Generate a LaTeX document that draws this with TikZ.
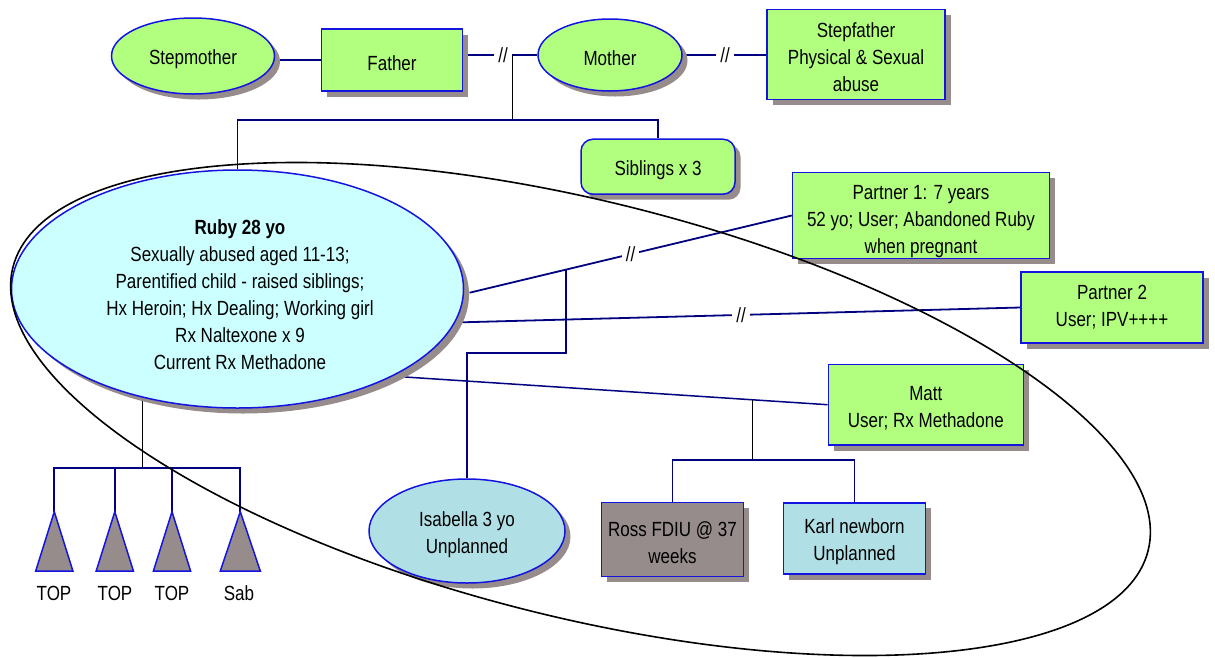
\documentclass[tikz,border=0pt]{standalone}
\usepackage{fontspec}
\setmainfont{Liberation Sans}[FakeStretch=0.83]
\usetikzlibrary{shapes.geometric,shadows,backgrounds,calc}
\definecolor{gfill}{RGB}{178,255,128}
\definecolor{rubyfill}{RGB}{204,255,255}
\definecolor{kidfill}{RGB}{176,224,230}
\definecolor{shgrey}{RGB}{150,140,140}
\definecolor{bord}{RGB}{20,20,225}
\definecolor{navyc}{RGB}{0,0,128}
\newcommand{\topstrut}[1]{\rule{0pt}{#1pt}}
\begin{document}
\begin{tikzpicture}[x=1pt,y=1pt,
  font=\fontsize{20.5}{27}\selectfont,
  base/.style={draw=bord, line width=1.5pt, inner sep=0pt, align=center,
    drop shadow={shadow xshift=5.5pt, shadow yshift=-5.5pt, fill=shgrey, opacity=1}},
  gbox/.style={base, rectangle, fill=gfill},
  gell/.style={base, ellipse, fill=gfill},
  conn/.style={draw=navyc, line width=1.8pt},
  thinline/.style={draw=black, line width=1.2pt},
  brk/.style={fill=white, inner xsep=4pt, inner ysep=1pt},
  tri/.style={draw=bord, fill=shgrey, line width=1.5pt, line join=miter},
  ring/.style={draw=black, line width=1.6pt}
]
\useasboundingbox (0,0) rectangle (1215,-657);

% nodes
\node[gell, minimum width=163, minimum height=76] (stepmother) at (193,-56) {\topstrut{22}Stepmother};
\node[gbox, minimum width=141, minimum height=62] (father) at (392,-60) {\topstrut{22}Father};
\node[gell, minimum width=144, minimum height=72] (mother) at (610,-55) {\topstrut{22}Mother};
\node[gbox, minimum width=178, minimum height=90] (stepfather) at (856,-54.3) {\topstrut{20}Stepfather\\Physical \& Sexual\\abuse};
\node[gbox, rounded corners=12pt, minimum width=154, minimum height=55] (siblings) at (658,-166.7) {\topstrut{22}Siblings x 3};
\node[base, ellipse, fill=rubyfill, minimum width=452, minimum height=238] (ruby) at (237.5,-289) {};
\node[align=center, inner sep=0pt] (rubytxt) at (240,-295) {\textbf{Ruby 28 yo}\\Sexually abused aged 11-13;\\ Parentified child - raised siblings;\\Hx Heroin; Hx Dealing; Working girl\\Rx Naltexone x 9\\Current Rx Methadone};
\node[gbox, minimum width=257, minimum height=85.6] (p1) at (921,-215.5) {\topstrut{27}Partner 1: 7 years\\52 yo; User; Abandoned Ruby\\when pregnant};
\node[gbox, minimum width=182, minimum height=71] (p2) at (1112,-307.5) {Partner 2\\User; IPV++++};
\node[gbox, minimum width=195, minimum height=80.7] (matt) at (925.8,-404.7) {\topstrut{22}Matt\\User; Rx Methadone};
\node[base, ellipse, fill=kidfill, minimum width=196, minimum height=104] (isabella) at (467,-531) {\topstrut{22}Isabella 3 yo\\Unplanned};
\node[base, rectangle, fill=shgrey, minimum width=141.6, minimum height=74] (ross) at (672.5,-539.7) {\topstrut{20}Ross FDIU @ 37\\weeks};
\node[base, rectangle, fill=kidfill, minimum width=142.4, minimum height=71.3] (karl) at (854.5,-538.4) {\topstrut{21}Karl newborn\\Unplanned};

% triangles (pregnancies)
\coordinate (t1) at (54.3,-511.7);
\coordinate (t2) at (114.8,-511.7);
\coordinate (t3) at (172,-511.7);
\coordinate (t4) at (240.3,-511.7);
\draw[tri] (t1) -- ++(-18.6,-59.3) -- ++(37.2,0) -- cycle;
\draw[tri] (t2) -- ++(-18.6,-59.3) -- ++(37.2,0) -- cycle;
\draw[tri] (t3) -- ++(-18.6,-59.3) -- ++(37.2,0) -- cycle;
\draw[tri] (t4) -- ++(-20,-59.3) -- ++(40,0) -- cycle;
\node (l1) at (54,-593) {TOP};
\node (l2) at (115,-593) {TOP};
\node (l3) at (172,-593) {TOP};
\node (l4) at (239,-593) {Sab};

% coordinates for connectors
\coordinate (stem) at (512.5,-55);
\coordinate (sibbar) at (512.5,-120);
\coordinate (r1) at (469.6,-292.7);
\coordinate (iso) at (566,-270);
\coordinate (ibend) at (566,-353.3);
\coordinate (r2) at (462,-322.3);
\coordinate (r3) at (405,-377);
\coordinate (mstem) at (752.3,-399.7);
\coordinate (mbar) at (752.3,-460);
\coordinate (tstem) at (142.4,-390);
\coordinate (tbar) at (142.4,-467.7);

% break marks
\node[brk] (bk1) at (503,-55) {//};
\node[brk] (bk2) at (725,-55) {//};
\node[brk] (bk3) at ($(r1)!0.5!(p1.west)$) {//};
\node[brk] (bk4) at ($(r2)!0.5!(p2.west)$) {//};

\begin{pgfonlayer}{background}
\draw[conn] (father.west) -- (father.west -| stepmother.east);
\draw[conn] (father.east |- mother.west) -- (mother.west);
\draw[conn] (mother.east) -- (stepfather.west |- mother.east);
\draw[thinline] (stem) -- (sibbar);
\draw[conn] (ruby.north) |- (siblings.north |- sibbar) -- (siblings.north);
\draw[conn] (r1) -- (p1.west);
\draw[conn] (iso) -- (ibend) -| (isabella.north);
\draw[conn] (r2) -- (p2.west);
\draw[conn, line width=1.5pt] (r3) -- (matt.west);
\draw[thinline] (mstem) -- (mbar);
\draw[conn] (ross.north) |- (karl.north |- mbar) -- (karl.north);
\draw[thinline] (tstem) -- (tbar);
\draw[conn] (t1) |- (t4 |- tbar) -- (t4);
\draw[conn] (t2) -- (t2 |- tbar);
\draw[conn] (t3) -- (t3 |- tbar);
\end{pgfonlayer}

% enclosing ring
\draw[ring, rotate around={-14:(580.5,-409)}] (580.5,-409) ellipse [x radius=585pt, y radius=208pt];
\end{tikzpicture}
\end{document}
